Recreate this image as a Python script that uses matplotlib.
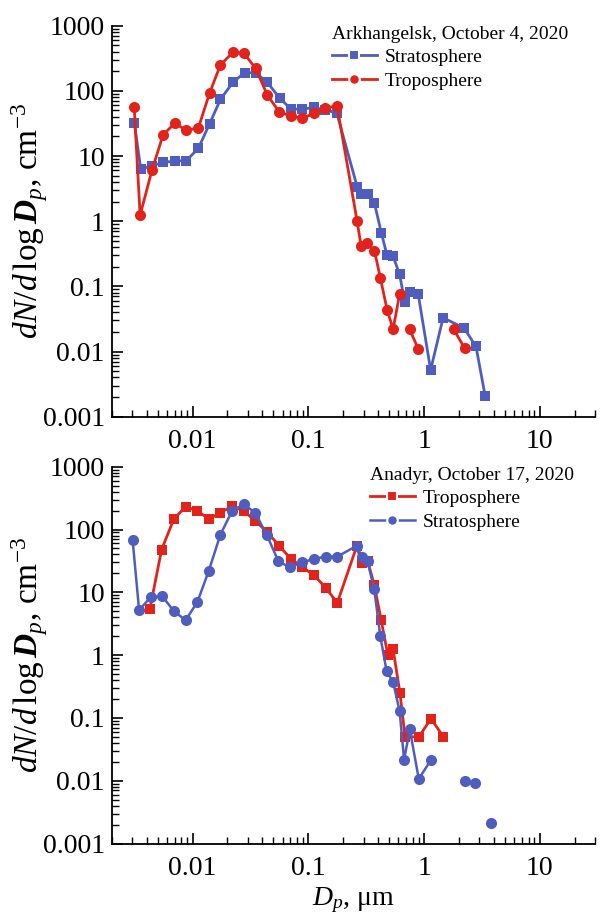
import numpy as np
import matplotlib
matplotlib.use("Agg")
import matplotlib.pyplot as plt
from matplotlib.ticker import LogLocator, NullFormatter, FixedLocator, FixedFormatter

nan = np.nan

# ---------------- Data ----------------
# Arkhangelsk, October 4, 2020
ark_strat_d = [0.00313, 0.00357, 0.00445, 0.0056, 0.00708, 0.00883, 0.0112, 0.014, 0.0174,
               0.0223, 0.0281, 0.035, 0.0443, 0.0566, 0.0706, 0.089, 0.111, 0.139, 0.176,
               0.264, 0.286, 0.327, 0.373, 0.427, 0.478, 0.539, 0.615, 0.68, 0.75, 0.89,
               1.14, 1.46, 2.21, 2.81, 3.37]
ark_strat_n = [32.5, 6.3, 7.1, 8.0, 8.4, 8.5, 13.1, 31, 74,
               135, 190, 190, 135, 77, 53, 52, 56, 51, 46,
               3.4, 2.6, 2.6, 1.88, 0.667, 0.303, 0.292, 0.153, 0.058, 0.083, 0.076,
               0.0052, 0.033, 0.023, 0.012, 0.0021]

ark_trop_d = [0.00313, 0.00352, 0.00445, 0.00555, 0.00699, 0.00883, 0.0112, 0.014, 0.0174,
              0.0223, 0.0278, 0.035, 0.0443, 0.0559, 0.0706, 0.089, 0.111, 0.139, 0.177,
              0.264, 0.286, 0.323, 0.373, 0.42, 0.479, 0.54, 0.615, nan, 0.75, 0.89,
              nan, 1.8, 2.24]
ark_trop_n = [56, 1.24, 6.0, 21, 31.8, 25, 26.7, 92, 250,
              390, 376, 222, 86, 48, 41, 38, 45, 54, 59,
              1.0, 0.41, 0.46, 0.35, 0.133, 0.044, 0.022, 0.076, nan, 0.022, 0.011,
              nan, 0.022, 0.0113]

# Anadyr, October 17, 2020
ana_trop_d = [0.00428, 0.0054, 0.0069, 0.0087, 0.011, 0.0138, 0.0174, 0.0219, 0.0276,
              0.0348, 0.0439, 0.056, 0.0708, 0.089, 0.112, 0.141, 0.178, 0.262, 0.29,
              0.325, 0.371, 0.426, 0.487, 0.54, 0.62, 0.685, 0.9, 1.15, 1.47]
ana_trop_n = [5.5, 48, 148, 230, 199, 146, 185, 235, 199,
              137, 92, 55, 34, 25, 18.7, 11.9, 6.8, 54, 29,
              32, 13.2, 3.6, 0.99, 1.25, 0.245, 0.05, 0.05, 0.097, 0.05]

ana_strat_d = [0.00303, 0.00345, 0.00435, 0.00548, 0.0069, 0.0087, 0.011, 0.0138, 0.0174,
               0.0219, 0.0276, 0.0348, 0.0439, 0.0552, 0.0696, 0.089, 0.112, 0.141, 0.178,
               0.262, 0.29, 0.325, 0.371, 0.419, 0.475, 0.54, 0.615, 0.672, 0.753, 0.9,
               1.15, nan, 2.24, nan, 2.75, nan, 3.76]
ana_strat_n = [69, 5.2, 8.4, 8.6, 5.0, 3.6, 7.0, 22, 83,
               196, 254, 184, 81, 31, 25, 30, 34, 37, 37,
               55, 36, 31, 11.2, 2.0, 0.55, 0.375, 0.128, 0.0215, 0.0655, 0.0107,
               0.0215, nan, 0.0098, nan, 0.0093, nan, 0.00215]

x_ticks = [0.01, 0.1, 1, 10]
x_tick_labels = ["0.01", "0.1", "1", "10"]
y_ticks = [0.001, 0.01, 0.1, 1, 10, 100, 1000]
y_tick_labels = ["0.001", "0.01", "0.1", "1", "10", "100", "1000"]

BLUE = "#4F5EBE"
RED = "#E2231C"

# ---------------- Style ----------------
plt.rcParams["font.family"] = ["Liberation Serif", "DejaVu Serif"]
plt.rcParams["mathtext.fontset"] = "custom"
plt.rcParams["mathtext.rm"] = "Liberation Serif"
plt.rcParams["mathtext.it"] = "Liberation Serif:italic"
plt.rcParams["mathtext.bf"] = "Liberation Serif:bold"
plt.rcParams["mathtext.bfit"] = "Liberation Serif:bold:italic"

W, H = 603, 916
fig = plt.figure(figsize=(W / 100, H / 100), dpi=100)

def px_axes(left, top, right, bottom):
    return fig.add_axes([left / W, 1 - bottom / H, (right - left) / W, (bottom - top) / H])

AX_L, AX_R = 111.7, 595
ax1 = px_axes(AX_L, 25.7, AX_R, 416.7)
ax2 = px_axes(AX_L, 466.7, AX_R, 843.5)

ylabel = r"$dN/d\,\mathrm{log}\,\mathbfit{D}_p$, cm$^{-3}$"

for ax in (ax1, ax2):
    ax.set_xscale("log")
    ax.set_yscale("log")
    ax.set_xlim(0.002, 30)
    ax.set_ylim(0.001, 1000)
    ax.spines["top"].set_visible(False)
    ax.spines["right"].set_visible(False)
    for s in ("left", "bottom"):
        ax.spines[s].set_linewidth(1.3)
    ax.xaxis.set_major_locator(FixedLocator(x_ticks))
    ax.xaxis.set_major_formatter(FixedFormatter(x_tick_labels))
    ax.yaxis.set_major_locator(FixedLocator(y_ticks))
    ax.yaxis.set_major_formatter(FixedFormatter(y_tick_labels))
    ax.xaxis.set_minor_locator(LogLocator(base=10, subs=np.arange(2, 10), numticks=20))
    ax.yaxis.set_minor_locator(LogLocator(base=10, subs=np.arange(2, 10), numticks=20))
    ax.xaxis.set_minor_formatter(NullFormatter())
    ax.yaxis.set_minor_formatter(NullFormatter())
    ax.tick_params(which="major", direction="in", length=8, width=1.2, labelsize=20, pad=5)
    ax.tick_params(axis="x", which="major", pad=9)
    ax.tick_params(which="minor", direction="in", length=5, width=1.0)
    ax.set_ylabel(ylabel, fontsize=24)
    ax.yaxis.set_label_coords((50 - AX_L) / (AX_R - AX_L), 0.5)

def style_legend(leg):
    for h in leg.legend_handles:
        h.set_markeredgecolor("white")
        h.set_markeredgewidth(1.5)

# Top panel
ax1.plot(ark_strat_d, ark_strat_n, color=BLUE, lw=2, marker="s", ms=7.5, mew=0,
         label="Stratosphere")
ax1.plot(ark_trop_d, ark_trop_n, color=RED, lw=2, marker="o", ms=8, mew=0,
         label="Troposphere")
leg1 = ax1.legend(title="Arkhangelsk, October 4, 2020", loc="upper left",
                  bbox_to_anchor=((332 - AX_L) / (AX_R - AX_L), 1.0), frameon=False,
                  fontsize=14, title_fontsize=14, handlelength=2.3, handletextpad=0.4,
                  labelspacing=0.3, borderpad=0.0, borderaxespad=0.0, alignment="left",
                  markerscale=0.95)
style_legend(leg1)

# Bottom panel
ax2.plot(ana_trop_d, ana_trop_n, color=RED, lw=2, marker="s", ms=7.5, mew=0,
         label="Troposphere")
ax2.plot(ana_strat_d, ana_strat_n, color=BLUE, lw=1.8, marker="o", ms=8, mew=0,
         label="Stratosphere")
leg2 = ax2.legend(title="Anadyr, October 17, 2020", loc="upper left",
                  bbox_to_anchor=((370 - AX_L) / (AX_R - AX_L), 1.0), frameon=False,
                  fontsize=14, title_fontsize=14, handlelength=2.3, handletextpad=0.4,
                  labelspacing=0.3, borderpad=0.0, borderaxespad=0.0, alignment="left",
                  markerscale=0.95)
style_legend(leg2)

ax2.set_xlabel(r"$D_p$, μm", fontsize=20, labelpad=3)

fig.savefig("out.png", dpi=100)
